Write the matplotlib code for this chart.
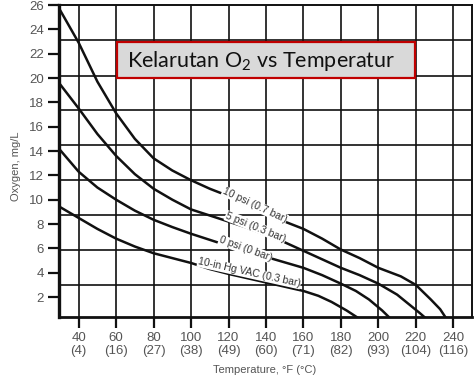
import matplotlib
matplotlib.use('Agg')
import matplotlib.pyplot as plt
from matplotlib.patches import Rectangle

# temperature ticks (deg F) and matching deg C labels
temp_f_ticks = [40, 60, 80, 100, 120, 140, 160, 180, 200, 220, 240]
temp_c_labels = ['4', '16', '27', '38', '49', '60', '71', '82', '93', '104', '116']
oxygen_ticks = [2, 4, 6, 8, 10, 12, 14, 16, 18, 20, 22, 24, 26]
# horizontal grid of the scanned chart does not sit on the ticks
grid_y = [3.0, 5.87, 8.75, 11.62, 14.5, 17.37, 20.2, 23.1]

# curves: temperature (F) -> oxygen (mg/L)
psi10_f = [30, 40, 50, 60, 70, 80, 90, 100, 110, 120, 130, 140, 150, 160, 170, 180, 190,
           200, 212, 220, 228, 233, 236]
psi10_o = [25.6, 22.9, 19.7, 17.1, 15.0, 13.4, 12.4, 11.6, 10.9, 10.3, 9.6, 8.9, 8.2, 7.6,
           6.8, 5.9, 5.2, 4.4, 3.7, 3.0, 1.8, 1.0, 0.3]

psi5_f = [30, 40, 50, 60, 70, 80, 90, 100, 110, 120, 130, 140, 150, 160, 170, 180, 190,
          200, 210, 218, 222, 225]
psi5_o = [19.5, 17.5, 15.4, 13.6, 12.1, 10.9, 10.0, 9.2, 8.7, 8.2, 7.7, 7.1, 6.5, 5.8,
          5.1, 4.4, 3.8, 3.1, 2.2, 1.2, 0.7, 0.3]

psi0_f = [30, 40, 50, 60, 70, 80, 90, 100, 110, 120, 130, 140, 150, 160, 170, 180, 188,
          195, 202, 206]
psi0_o = [14.1, 12.3, 11.0, 10.0, 9.1, 8.35, 7.75, 7.2, 6.7, 6.2, 5.75, 5.3, 4.85, 4.4,
          3.8, 3.1, 2.5, 1.8, 0.9, 0.3]

vac_f = [30, 40, 50, 60, 70, 80, 90, 100, 110, 120, 130, 140, 150, 160, 168, 175, 183, 189]
vac_o = [9.4, 8.5, 7.6, 6.8, 6.15, 5.6, 5.2, 4.8, 4.3, 3.9, 3.55, 3.2, 2.85, 2.5, 2.1,
         1.6, 0.9, 0.3]

curve_labels = ['10 psi (0.7 bar)', '5 psi (0.3 bar)', '0 psi (0 bar)', '10-in Hg VAC (0.3 bar)']
label_pos = [(134, 9.55), (134.5, 7.75), (129, 5.95), (131, 4.0)]
label_rot = [-25, -22, -20, -12.5]

plt.rcParams['font.family'] = ['Liberation Sans', 'DejaVu Sans']
plt.rcParams['mathtext.fontset'] = 'custom'
plt.rcParams['mathtext.rm'] = 'Lato'

fig = plt.figure(figsize=(4.77, 3.81), dpi=100)
ax = fig.add_axes([59 / 477, 1 - 317 / 381, 413 / 477, 312 / 381])

ink = '#111111'
for f, o in [(psi10_f, psi10_o), (psi5_f, psi5_o), (psi0_f, psi0_o), (vac_f, vac_o)]:
    ax.plot(f, o, color=ink, lw=1.8, zorder=3, solid_joinstyle='round')

for text, (x, y), rot in zip(curve_labels, label_pos, label_rot):
    ax.text(x, y, text, rotation=rot, ha='center', va='center', fontsize=7.5,
            color='#333333', zorder=4, rotation_mode='anchor',
            bbox=dict(facecolor='white', edgecolor='none', pad=0.3))

ax.set_xlim(29.5, 250)
ax.set_ylim(0.36, 26)
ax.set_xticks(temp_f_ticks, labels=[f'{f}\n({c})' for f, c in zip(temp_f_ticks, temp_c_labels)])
ax.set_yticks(oxygen_ticks)
ax.set_yticks(grid_y, minor=True)
ax.tick_params(axis='y', which='minor', length=0)
ax.tick_params(which='major', direction='out', length=8, width=1.6, color=ink,
               labelsize=9.5, labelcolor='#555555', pad=3)
for lbl in ax.get_xticklabels():
    lbl.set_linespacing(1.05)

ax.grid(axis='x', which='major', color=ink, lw=1.2, zorder=1)
ax.grid(axis='y', which='minor', color=ink, lw=1.2, zorder=1)
ax.set_axisbelow(True)

for side in ['top', 'right']:
    ax.spines[side].set_linewidth(1.4)
ax.spines['left'].set_linewidth(2.4)
ax.spines['bottom'].set_linewidth(2.0)
for s in ax.spines.values():
    s.set_color(ink)

fig.text(16 / 477, 1 - 166 / 381, 'Oxygen, mg/L', rotation=90, ha='center', va='center',
         fontsize=8, color='#555555')
fig.text(265 / 477, 1 - 370 / 381, 'Temperature, \u00b0F (\u00b0C)', ha='center', va='center',
         fontsize=8, color='#555555')

# title box
fig.patches.append(Rectangle((117 / 477, 1 - 78 / 381), 298 / 477, 36 / 381,
                             transform=fig.transFigure, facecolor='#d9d9d9',
                             edgecolor='#c00000', lw=1.6, zorder=10))
fig.text(127 / 477, 1 - 61 / 381, 'Kelarutan O$_2$ vs Temperatur', ha='left', va='center',
         fontsize=15.5, family='Lato', color='#111111', zorder=11)

fig.savefig('out.png', dpi=100)
